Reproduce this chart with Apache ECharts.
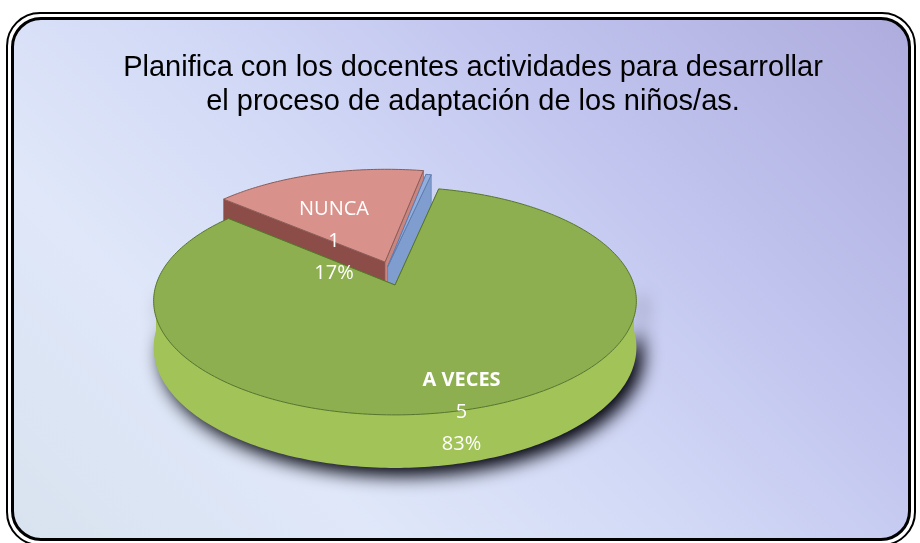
<!DOCTYPE html>
<html>
<head>
<meta charset="utf-8">
<script src="https://cdn.jsdelivr.net/npm/echarts@6/dist/echarts.min.js"></script>
<style>
  html, body { margin: 0; padding: 0; background: #fff; }
  #wrap { position: relative; width: 920px; height: 543px; overflow: hidden; background: #fff; }
  #frame {
    position: absolute; left: 6px; top: 12px; width: 906px; height: 530px;
    border: 2.5px solid #000; border-radius: 34px; background: #fff;
  }
  #panel {
    position: absolute; left: 3px; top: 3px; right: 3px; bottom: 3px;
    border: 3px solid #000; border-radius: 30px;
    background: linear-gradient(225deg, #aeacdd 0%, #c0c3ee 28%, #d2d9f6 52%, #dfe7f9 74%, #d9e3ef 100%);
  }
  #main { position: absolute; left: 0; top: 0; width: 920px; height: 543px; }
</style>
</head>
<body>
<div id="wrap">
  <div id="frame"><div id="panel"></div></div>
  <div id="main"></div>
</div>
<script>
// datos
const sliceNames = ['NUNCA', 'SIEMPRE', 'A VECES']
const sliceValues = [1, 0, 5]
const titleLines = [
  'Planifica con los docentes actividades para desarrollar',
  'el proceso de adaptación de los niños/as.',
]

// estilo por porción
const topColors = ['#D9928B', '#93AEDD', '#8DAF4F']
const startWallColors = ['#8C4C48', '#7F9DCF', '#7E9F45']
const endWallColors = ['#C9857F', '#7F9DCF', '#7E9F45']
const sideColors = ['#B5706A', '#7F9DCF', '#A1C358']
const edgeColors = ['#8A5A55', '#5E7BAE', '#56752A']
const explodeBy = [0.216, 0.17, 0]
const explodeTurn = [8, -22, 0]
const drawOrder = [0, 1, 2]
const showLabel = [true, false, true]
const boldName = [false, false, true]
const labelShift = [[-29, 8], [0, 0], [-20, 8]]

// geometría del pastel 3D (perspectiva simple)
const CX = 395, CY = 285, R = 239, RY = 111.7, PERSP = 0.14, DEPTH = 45.6
const START_DEG = -49.5, MIN_DEG = 1.5

const total = sliceValues.reduce((a, b) => a + b, 0)

function project(u, v, z) {
  const s = 1 / (1 + PERSP * v)
  return [CX + R * u * s, CY - RY * v * s + DEPTH * z * s]
}

function sliceAngles() {
  const deg = sliceValues.map((v) => Math.max((v / total) * 360, MIN_DEG))
  const extra = deg.reduce((a, b) => a + b, 0) - 360
  const big = deg.indexOf(Math.max(...deg))
  deg[big] -= extra
  let a = START_DEG
  return deg.map((d) => {
    const r = [a, a + d]
    a += d
    return r
  })
}
const angles = sliceAngles()

const rad = (d) => (d * Math.PI) / 180

function renderSlice(params, api) {
  const i = params.dataIndex
  const value = api.value(0)
  const [a0, a1] = angles[i]
  const mid = rad((a0 + a1) / 2)
  const dir = mid + rad(explodeTurn[i])
  const eu = explodeBy[i] * Math.sin(dir)
  const ev = explodeBy[i] * Math.cos(dir)
  const rim = (deg, z) => project(eu + Math.sin(rad(deg)), ev + Math.cos(rad(deg)), z)
  const arc = (from, to, z) => {
    const n = Math.max(2, Math.ceil(Math.abs(to - from)))
    const pts = []
    for (let k = 0; k <= n; k++) pts.push(rim(from + ((to - from) * k) / n, z))
    return pts
  }
  const cTop = project(eu, ev, 0)
  const cBot = project(eu, ev, 1)
  const base = drawOrder[i] * 10
  const children = []

  // caras de corte
  children.push({
    type: 'polygon', z2: base + 1,
    shape: { points: [cTop, rim(a0, 0), rim(a0, 1), cBot] },
    style: { fill: startWallColors[i], stroke: edgeColors[i], lineWidth: 0.6 },
  })
  children.push({
    type: 'polygon', z2: base + 1,
    shape: { points: [cTop, rim(a1, 0), rim(a1, 1), cBot] },
    style: { fill: endWallColors[i], stroke: edgeColors[i], lineWidth: 0.6 },
  })

  // pared exterior visible (mitad frontal)
  for (const off of [-360, 0, 360]) {
    const f0 = Math.max(a0, 90 + off)
    const f1 = Math.min(a1, 270 + off)
    if (f1 > f0) {
      children.push({
        type: 'polygon', z2: base + 1,
        shape: { points: arc(f0, f1, 0).concat(arc(f1, f0, 1)) },
        style: {
          fill: sideColors[i],
          shadowBlur: 18, shadowColor: 'rgba(0,0,10,1)',
          shadowOffsetX: 7, shadowOffsetY: 8,
        },
      })
    }
  }

  // cara superior
  children.push({
    type: 'polygon', z2: base + 2,
    shape: { points: [cTop].concat(arc(a0, a1, 0)) },
    style: { fill: topColors[i], stroke: edgeColors[i], lineWidth: 1 },
  })

  if (showLabel[i]) {
    const f = explodeBy[i] > 0 ? 0.3 : 0.98
    const p = project(eu + f * Math.sin(mid), ev + f * Math.cos(mid), 0)
    const pct = Math.round((value / total) * 100) + '%'
    const name = boldName[i] ? '{b|' + sliceNames[i] + '}' : sliceNames[i]
    children.push({
      type: 'text', z2: 100,
      x: p[0] + labelShift[i][0], y: p[1] + labelShift[i][1],
      style: {
        text: name + '\n' + value + '\n' + pct,
        fill: '#fff',
        font: '20px "Open Sans"',
        align: 'center', verticalAlign: 'middle',
        lineHeight: 32,
        rich: { b: { fontWeight: 'bold', fill: '#fff', fontSize: 20, fontFamily: 'Open Sans', lineHeight: 32 } },
      },
    })
  }

  return { type: 'group', children }
}

const chart = echarts.init(document.getElementById('main'))
chart.setOption({
  animation: false,
  backgroundColor: 'transparent',
  title: {
    text: titleLines.join('\n'),
    left: 468,
    top: 46,
    textAlign: 'center',
    textStyle: {
      fontFamily: 'Liberation Sans',
      fontSize: 29,
      fontWeight: 'normal',
      color: '#000',
      lineHeight: 34,
    },
  },
  series: [
    {
      type: 'custom',
      coordinateSystem: 'none',
      silent: true,
      renderItem: renderSlice,
      data: sliceValues.map((v, i) => ({ name: sliceNames[i], value: v })),
    },
  ],
})
</script>
</body>
</html>
